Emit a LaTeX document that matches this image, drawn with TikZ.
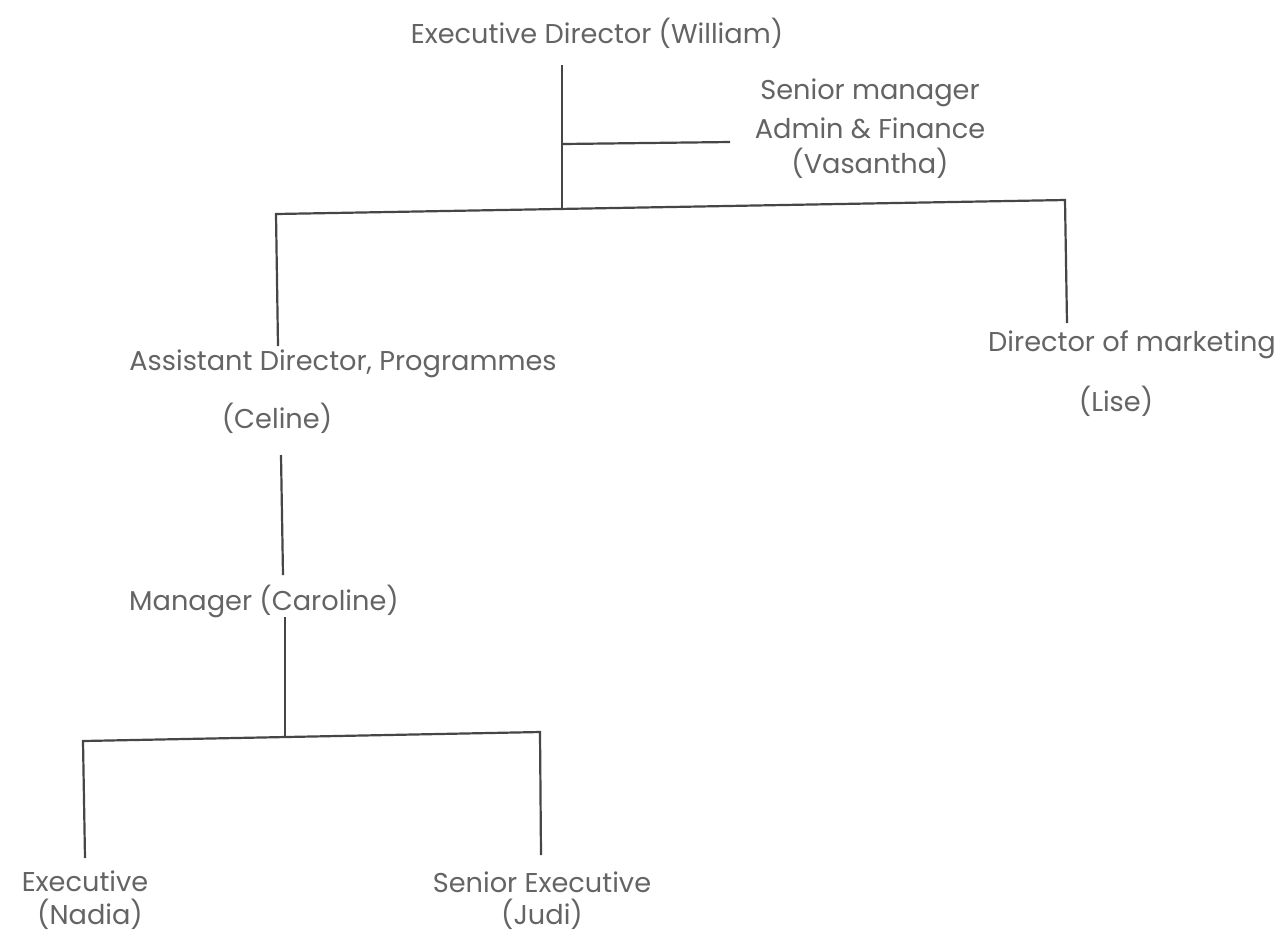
\documentclass[tikz,border=0pt]{standalone}
\usepackage{fontspec}
\setmainfont{Poppins}
\definecolor{txt}{RGB}{100,100,100}
\definecolor{ln}{RGB}{70,70,70}
\begin{document}
\begin{tikzpicture}[x=0.5pt,y=-0.5pt,
  lbl/.style={text=txt,font=\fontsize{13.6}{16}\selectfont,inner sep=0pt,align=center},
  conn/.style={draw=ln,line width=1.1pt}]
\useasboundingbox[fill=white] (0,0) rectangle (1285,934);
% texts
\node[lbl] (ed) at (597,33) {Executive Director (William)};
\node[lbl] (sm1) at (870,93) {Senior manager};
\node[lbl] (sm2) at (870,128) {Admin \& Finance};
\node[lbl] (sm3) at (870,163) {(Vasantha)};
\node[lbl] (ad) at (343,364) {Assistant Director, Programmes};
\node[lbl] (cel) at (277,418) {(Celine)};
\node[lbl] (dm) at (1132,345) {Director of marketing};
\node[lbl] (lis) at (1116,401) {(Lise)};
\node[lbl] (mgr) at (264,601) {Manager (Caroline)};
\node[lbl] (ex1) at (85,881) {Executive};
\node[lbl] (ex2) at (90,914) {(Nadia)};
\node[lbl] (se1) at (542,882) {Senior Executive};
\node[lbl] (se2) at (542,914) {(Judi)};
% junction coordinates
\coordinate (edb) at (562,65);
\coordinate (jt) at (562,209);
\coordinate (jv) at (563,144);
\coordinate (smL) at (730,142);
\coordinate (hl) at (276,214);
\coordinate (hr) at (1065,200);
\coordinate (adt) at (278,346);
\coordinate (dmt) at (1067,323);
\coordinate (celb) at (281,455);
\coordinate (mgrt) at (283,575);
\coordinate (mgrb) at (285,617);
\coordinate (jb) at (285,737);
\coordinate (bl) at (83,741);
\coordinate (br) at (540,732);
\coordinate (ext) at (85,858);
\coordinate (set) at (541,855);
% connectors
\draw[conn] (edb) -- (jt);
\draw[conn] (jv) -- (smL);
\draw[conn] (adt) -- (hl) -- (hr) -- (dmt);
\draw[conn] (celb) -- (mgrt);
\draw[conn] (mgrb) -- (jb);
\draw[conn] (ext) -- (bl) -- (br) -- (set);
\end{tikzpicture}
\end{document}
